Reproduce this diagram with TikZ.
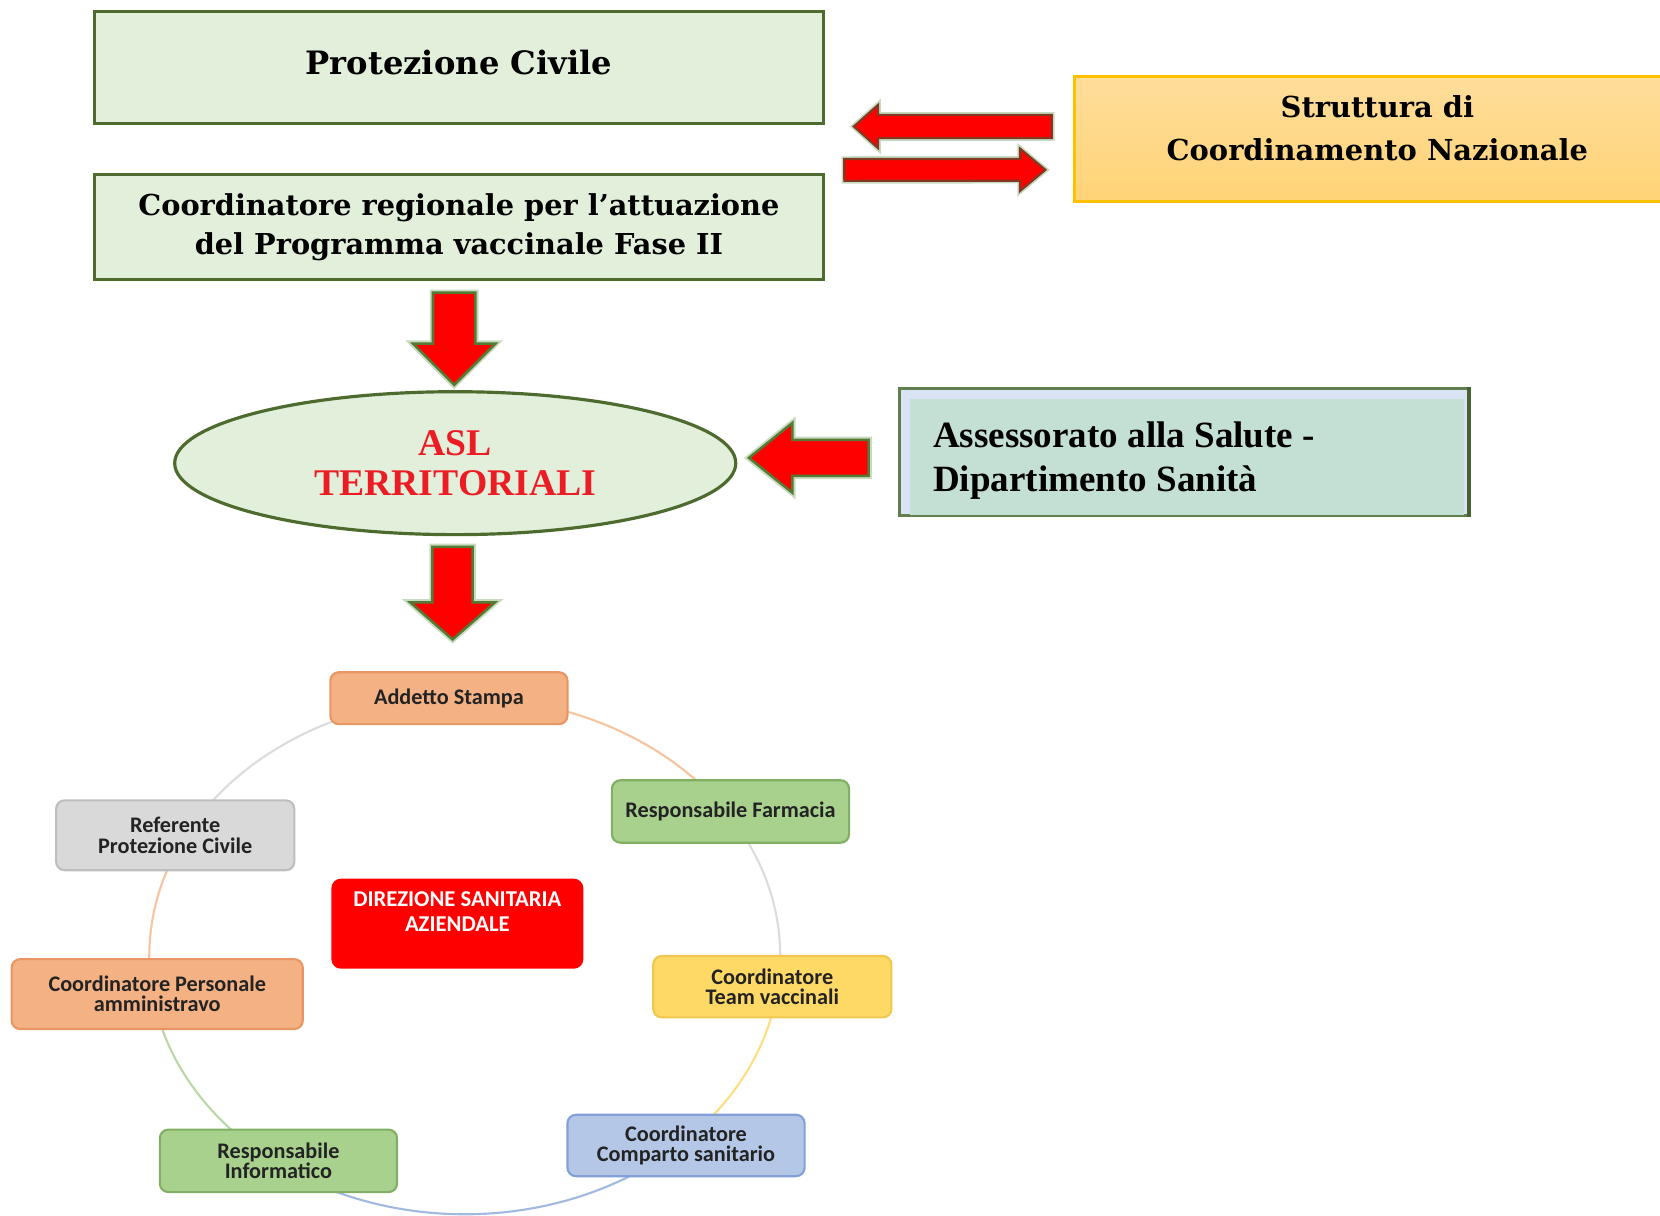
\documentclass[tikz,border=0pt]{standalone}
\usepackage{fontspec}
\usetikzlibrary{calc,shapes.geometric}
\newfontfamily\dvsfont{DejaVu Serif}
\newfontfamily\lsfont{Liberation Serif}
\newfontfamily\carfont{Carlito}
\definecolor{boxgreen}{RGB}{226,239,218}
\definecolor{darkgreen}{RGB}{78,107,47}
\definecolor{arrred}{RGB}{255,0,0}
\definecolor{arrgreen}{RGB}{84,122,52}
\definecolor{arrglow}{RGB}{200,218,192}
\definecolor{arrbrown}{RGB}{128,58,36}
\definecolor{strborder}{RGB}{255,192,0}
\definecolor{strtop}{RGB}{255,222,155}
\definecolor{strbot}{RGB}{255,211,118}
\definecolor{asslav}{RGB}{218,227,243}
\definecolor{assfill}{RGB}{196,223,211}
\definecolor{assborder}{RGB}{96,126,78}
\definecolor{assdark}{RGB}{70,100,50}
\definecolor{orfill}{RGB}{244,177,131}
\definecolor{ordraw}{RGB}{233,150,100}
\definecolor{grfill}{RGB}{169,209,142}
\definecolor{grdraw}{RGB}{130,175,100}
\definecolor{yefill}{RGB}{255,217,102}
\definecolor{yedraw}{RGB}{240,200,80}
\definecolor{blfill}{RGB}{180,199,231}
\definecolor{bldraw}{RGB}{130,160,215}
\definecolor{gyfill}{RGB}{217,217,217}
\definecolor{gydraw}{RGB}{190,190,190}
\definecolor{asltext}{RGB}{235,28,36}
\definecolor{smalltext}{RGB}{35,35,35}
\definecolor{arcor}{RGB}{247,196,160}
\definecolor{arcgy}{RGB}{220,220,220}
\definecolor{arcye}{RGB}{255,222,130}
\definecolor{arcbl}{RGB}{160,185,225}
\definecolor{arcgr}{RGB}{185,216,165}
\newcommand{\blockarr}[6]{%
  \path ($(#3)!#6!(#2)$) coordinate (ba-hb);
  \filldraw[#1] ($(#2)!#4!90:(#3)$) -- ($(ba-hb)!#4!90:(#3)$) -- ($(ba-hb)!#5!90:(#3)$) -- (#3)
    -- ($(ba-hb)!#5!-90:(#3)$) -- ($(ba-hb)!#4!-90:(#3)$) -- ($(#2)!#4!-90:(#3)$) -- cycle;}
\tikzset{
  gbox/.style={draw=darkgreen, fill=boxgreen, line width=1.5pt, inner sep=0pt},
  redgreen/.style={fill=arrred, draw=arrgreen, line width=1.2pt, line join=miter,
    preaction={draw=arrglow, line width=3pt}},
  redbrown/.style={fill=arrred, draw=arrbrown, line width=1pt, line join=miter,
    preaction={draw=arrglow, line width=2.6pt}},
  sbox/.style={rectangle, rounded corners=4pt, line width=1pt, align=center, inner sep=1pt,
    font=\carfont\bfseries\fontsize{10.5}{9.6}\selectfont, text=smalltext},
  arcline/.style={line width=1pt},
}
\begin{document}
\begin{tikzpicture}[x=0.5pt,y=-0.5pt]
\useasboundingbox (0,0) rectangle (1568,1148.6);
% cycle arcs
\draw[arcline, arcor] plot[domain=-93:-33.7, samples=40, variable=\t] ({439+298*cos(\t)},{903+244*sin(\t)});
\draw[arcline, arcgy] plot[domain=-33.7:6.9, samples=30, variable=\t] ({439+298*cos(\t)},{903+244*sin(\t)});
\draw[arcline, arcye] plot[domain=6.9:46.3, samples=30, variable=\t] ({439+298*cos(\t)},{903+244*sin(\t)});
\draw[arcline, arcbl] plot[domain=46.3:126.8, samples=50, variable=\t] ({439+298*cos(\t)},{903+244*sin(\t)});
\draw[arcline, arcgr] plot[domain=126.8:171.4, samples=30, variable=\t] ({439+298*cos(\t)},{903+244*sin(\t)});
\draw[arcline, arcor] plot[domain=171.4:207, samples=30, variable=\t] ({439+298*cos(\t)},{903+244*sin(\t)});
\draw[arcline, arcgy] plot[domain=207:267, samples=40, variable=\t] ({439+298*cos(\t)},{903+244*sin(\t)});

% top boxes
\node[gbox, minimum width=344.5pt, minimum height=53pt] (pc) at (433.5,64) {};
\node[font=\dvsfont\bfseries\fontsize{15.2}{18}\selectfont, anchor=base, inner sep=0pt] (pct) at (433.5,70) {Protezione Civile};
\node[gbox, minimum width=344.5pt, minimum height=49.5pt, align=center,
  font=\dvsfont\bfseries\fontsize{13.6}{18.5}\selectfont] (coord) at (433.5,214.5)
  {Coordinatore regionale per l’attuazione\\del Programma vaccinale Fase II};

\node[draw=strborder, line width=1.5pt, top color=strtop, bottom color=strbot,
  minimum width=286pt, minimum height=59pt, inner sep=0pt] (str) at (1301,131) {};
\node[font=\dvsfont\bfseries\fontsize{13.65}{20}\selectfont, align=center, inner sep=0pt] (strt) at (1301,121)
  {Struttura di\\Coordinamento Nazionale};

% ASL ellipse
\node[ellipse, draw=darkgreen, line width=1.5pt, fill=boxgreen, minimum width=265pt, minimum height=67.5pt,
  inner sep=0pt, align=center, text=asltext, font=\lsfont\bfseries\fontsize{17.8}{18.5}\selectfont]
  (asl) at (430,437.5) {ASL\\TERRITORIALI};

% Assessorato
\node[draw=assborder, line width=1.5pt, fill=asslav, minimum width=269pt, minimum height=60pt, inner sep=0pt]
  (ass) at (1119,427) {};
\fill[assfill] ($(ass.north west)+(11,11)$) rectangle ($(ass.south east)+(-7,-2)$);
\draw[assdark, line width=2pt] ($(ass.north east)+(-2,0)$) -- ($(ass.south east)+(-2,0)$);
\node[font=\lsfont\bfseries\fontsize{17.5}{21}\selectfont, align=left, anchor=north west, inner sep=0pt]
  (asst) at (881,398) {Assessorato alla Salute -\\Dipartimento Sanità};

% cycle boxes
\node[sbox, draw=ordraw, fill=orfill, minimum width=112pt, minimum height=24.5pt] (addetto) at (424,659.5) {Addetto Stampa};
\node[sbox, draw=grdraw, fill=grfill, minimum width=112pt, minimum height=29.5pt] (farmacia) at (690,766.5) {Responsabile Farmacia};
\node[sbox, draw=yedraw, fill=yefill, minimum width=112.5pt, minimum height=29pt] (team) at (729.5,932) {Coordinatore\\Team vaccinali};
\node[sbox, draw=bldraw, fill=blfill, minimum width=112pt, minimum height=29pt] (comparto) at (648,1082) {Coordinatore\\Comparto sanitario};
\node[sbox, draw=grdraw, fill=grfill, minimum width=112pt, minimum height=29.5pt] (informatico) at (263,1096.5) {Responsabile\\Informatico};
\node[sbox, draw=ordraw, fill=orfill, minimum width=137.5pt, minimum height=33pt] (personale) at (148.5,939) {Coordinatore Personale\\amministravo};
\node[sbox, draw=gydraw, fill=gyfill, minimum width=112.5pt, minimum height=33pt] (referente) at (165.5,789) {Referente\\Protezione Civile};
\node[sbox, draw=arrred, fill=arrred, text=white, minimum width=118pt, minimum height=41.5pt,
  font=\carfont\bfseries\fontsize{10.7}{11.5}\selectfont] (direzione) at (432,872.5) {DIREZIONE SANITARIA\\AZIENDALE\\\mbox{}};

% block arrows
\blockarr{redbrown}{$(str.west)+(-20,-11.5)$}{$(pc.east)+(27,55.5)$}{5.5pt}{10.25pt}{11.5pt}
\blockarr{redbrown}{$(coord.east)+(18,-54)$}{$(str.west)+(-26,29.4)$}{5.15pt}{10pt}{12pt}
\blockarr{redgreen}{$(coord.south)+(-4.5,11)$}{$(asl.north)+(-1,-5)$}{10pt}{19.5pt}{19.5pt}
\blockarr{redgreen}{$(ass.west)+(-28,5.5)$}{$(asl.east)+(11,-5)$}{8.5pt}{16.5pt}{20.5pt}
\blockarr{redgreen}{$(asl.south)+(-2.5,10)$}{$(addetto.north)+(3.5,-30)$}{9.5pt}{20pt}{17.5pt}
\end{tikzpicture}
\end{document}
